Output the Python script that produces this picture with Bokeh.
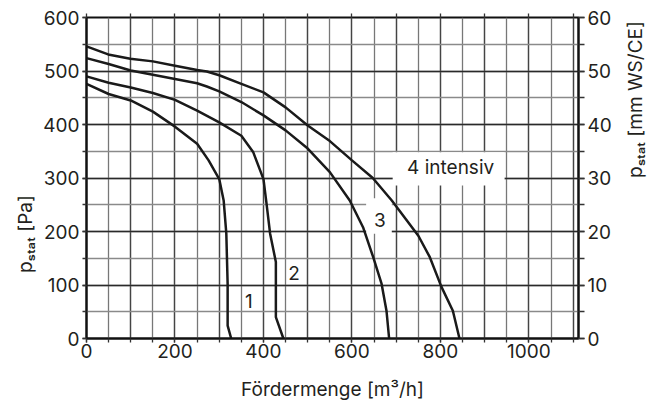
import math
from bokeh.plotting import figure
from bokeh.models import Range1d, LinearAxis, SingleIntervalTicker, FixedTicker, Label
from bokeh.embed import file_html
from bokeh.resources import INLINE

# ---- data ----
X_MAX = 1112          # m3/h
Y_MAX = 600           # Pa
MM_MAX = 60           # mm WS/CE

q1 = [0, 50, 100, 150, 200, 250, 276, 300, 310, 316, 319, 319, 327]
p1 = [476, 457, 445, 424, 396, 364, 333, 298, 258, 196, 102, 24, 0]

q2 = [0, 50, 100, 150, 200, 250, 300, 350, 377, 400, 406, 415, 428, 428, 445]
p2 = [490, 478, 469, 459, 446, 426, 404, 379, 348, 298, 258, 196, 143, 40, 0]

q3 = [0, 50, 100, 150, 200, 250, 272, 300, 350, 400, 450, 500, 550, 595, 625, 648, 667, 678, 684]
p3 = [524, 513, 501, 493, 485, 477, 471, 462, 442, 417, 389, 355, 311, 258, 208, 152, 102, 52, 0]

q4 = [0, 49, 99, 150, 200, 250, 272, 300, 350, 400, 450, 500, 550, 600, 647, 690, 750, 776, 802, 828, 843]
p4 = [546, 531, 523, 518, 510, 502, 499, 492, 476, 460, 432, 398, 369, 333, 300, 258, 192, 152, 97, 52, 0]

curve_names = ["1", "2", "3", "4 intensiv"]
name_q = [367, 469, 663, 823]
name_p = [71, 122, 222, 320]

# label boxes (white patches that hide the grid behind some names)
box_left = [632, 692]
box_right = [690, 945]
box_bottom = [196, 286]
box_top = [262, 348]

x_label = "Fördermenge [m³/h]"
NB = "\u00a0"
y_label = "p\u209b\u209c\u2090\u209c [Pa]" + NB * 21
y2_label = "p\u209b\u209c\u2090\u209c [mm WS/CE]"
Y2_LABEL_SPAN = (0, 348)   # span whose middle is where the right title starts

FONT = "Inter"
TXT = "#231f20"

W, H = 661, 405
L, R, T, B = 86, 82, 17, 67

p = figure(width=W, height=H, output_backend="svg", toolbar_location=None,
           x_range=Range1d(0, X_MAX), y_range=Range1d(0, Y_MAX),
           min_border_left=L, min_border_right=R, min_border_top=T, min_border_bottom=B,
           background_fill_color="white", border_fill_color="white")
p.outline_line_color = "#111111"
p.outline_line_width = 2

# bottom axis
xa = p.xaxis[0]
xa.ticker = SingleIntervalTicker(interval=200, num_minor_ticks=4)
xa.axis_label = x_label
xa.axis_label_standoff = 17

# left axis
ya = p.yaxis[0]
ya.ticker = SingleIntervalTicker(interval=100, num_minor_ticks=2)
ya.axis_label = y_label
ya.axis_label_standoff = 3

# grid
p.xgrid.ticker = SingleIntervalTicker(interval=100, num_minor_ticks=2)
p.ygrid.ticker = SingleIntervalTicker(interval=100, num_minor_ticks=2)
p.xgrid.axis = xa
p.ygrid.axis = ya
p.xgrid.bounds = (0, X_MAX)
p.ygrid.bounds = (0, Y_MAX)
for g in (p.xgrid, p.ygrid):
    g.grid_line_color = "#2a2a2a"
    g.grid_line_width = 1.3
    g.minor_grid_line_color = "#8a8a8a"
    g.minor_grid_line_width = 1.3
p.xgrid.grid_line_color = "#444444"
p.xgrid.minor_grid_line_color = "#777777"

# right axis (mm WS/CE)
p.extra_y_ranges = {"mm": Range1d(0, MM_MAX)}
ra = LinearAxis(y_range_name="mm", ticker=SingleIntervalTicker(interval=10, num_minor_ticks=2))
p.add_layout(ra, "right")

# right title carrier (no ticks), reading upwards
la = LinearAxis(ticker=FixedTicker(ticks=[]), bounds=Y2_LABEL_SPAN)
la.axis_label = y2_label
la.axis_label_orientation = math.pi / 2
la.axis_label_standoff = 21
p.add_layout(la, "right")

# top tick stubs
ta = LinearAxis(ticker=SingleIntervalTicker(interval=100, num_minor_ticks=2))
p.add_layout(ta, "above")

for a in (xa, ya, ra, ta, la):
    a.axis_line_color = "#111111"
    a.axis_line_width = 2
    a.major_tick_line_color = "#333333"
    a.minor_tick_line_color = "#333333"
    a.major_tick_line_width = 1.3
    a.minor_tick_line_width = 1.3
    a.major_tick_in = 0
    a.minor_tick_in = 0
    a.major_tick_out = 4
    a.minor_tick_out = 4
    a.major_label_text_font = FONT
    a.major_label_text_font_size = "19px"
    a.major_label_text_color = TXT
    a.axis_label_text_font = FONT
    a.axis_label_text_font_size = "19px"
    a.axis_label_text_font_style = "normal"
    a.axis_label_text_color = TXT

xa.major_label_standoff = 1
ya.major_label_standoff = 3
ra.major_tick_out = 6
ra.minor_tick_out = 6
ra.major_label_standoff = 3
la.axis_line_color = None
la.major_tick_line_color = None
la.minor_tick_line_color = None
la.major_tick_out = 0
la.minor_tick_out = 0
la.major_label_standoff = 0
ta.axis_line_color = None
ta.major_label_overrides = {v: "" for v in range(0, 1200, 100)}
ta.major_label_standoff = 0
ta.minor_tick_out = 0
ta.minor_tick_line_color = None

# white boxes behind some names
p.quad(left=box_left, right=box_right, bottom=box_bottom, top=box_top,
       fill_color="white", line_color=None)

# curves
for qs, ps in ((q1, p1), (q2, p2), (q3, p3), (q4, p4)):
    p.line(qs, ps, line_color="#1a1a1a", line_width=2.5)

# curve names
for name, qq, pp in zip(curve_names, name_q, name_p):
    p.add_layout(Label(x=qq, y=pp, text=name, text_font=FONT, text_font_size="19px",
                       text_color=TXT, text_align="center", text_baseline="middle"))

open("out.html", "w").write(file_html(p, INLINE))
